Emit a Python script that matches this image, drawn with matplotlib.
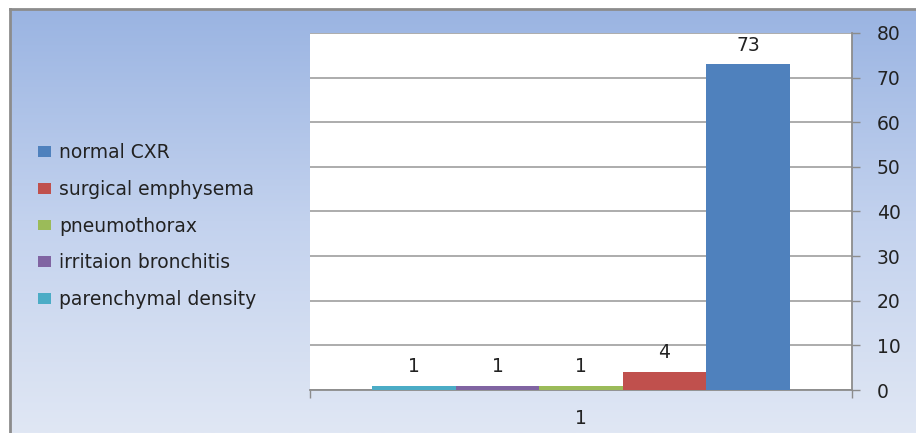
import numpy as np
import matplotlib
matplotlib.use("Agg")
import matplotlib.pyplot as plt
from matplotlib.colors import LinearSegmentedColormap

plt.rcParams['font.family'] = ['DejaVu Sans']

# Series, in the order they are drawn left to right
series = ["parenchymal density", "irritaion bronchitis", "pneumothorax",
          "surgical emphysema", "normal CXR"]
values = [1, 1, 1, 4, 73]
colors = ["#4BACC6", "#8064A2", "#9BBB59", "#C0504D", "#4F81BD"]
category_labels = ["1"]
y_ticks = [0, 10, 20, 30, 40, 50, 60, 70, 80]

FS = 13.5
W, H = 916, 433
fig = plt.figure(figsize=(W / 100, H / 100), dpi=100)
fig.patch.set_facecolor("white")

# Gradient chart area with a grey frame
bg = fig.add_axes([10 / W, 0, 1 - 10 / W, 1 - 9 / H], zorder=0)
cmap = LinearSegmentedColormap.from_list("bg", ["#9AB4E2", "#C3D2EE", "#E0E7F4"])
grad = np.linspace(0, 1, 256).reshape(-1, 1)
bg.imshow(grad, aspect="auto", cmap=cmap, extent=[0, 1, 0, 1], origin="upper")
bg.set_xlim(0, 1)
bg.set_ylim(0, 1)
bg.set_xticks([])
bg.set_yticks([])
for s in ["right", "bottom"]:
    bg.spines[s].set_visible(False)
for s in ["left", "top"]:
    bg.spines[s].set_color("#8C8C8C")
    bg.spines[s].set_linewidth(2)

# Plot area
ax = fig.add_axes([310 / W, 43 / H, 542 / W, 357 / H], zorder=1)
ax.set_facecolor("white")

n = len(series)
width = 0.154
offsets = (np.arange(n) - (n - 1) / 2) * width
handles = []
for i, (name, v, c) in enumerate(zip(series, values, colors)):
    b = ax.bar(offsets[i], v, width=width, color=c, label=name, zorder=3)
    handles.append(b)
    ax.annotate(str(v), (offsets[i], v), xytext=(0, 7), textcoords="offset points",
                ha="center", va="bottom", fontsize=FS, color="#222222")

ax.set_xlim(-0.5, 0.5)
ax.set_ylim(0, 80)
ax.yaxis.tick_right()
ax.set_yticks(y_ticks)
ax.set_yticklabels([str(t) for t in y_ticks])
ax.tick_params(axis="y", length=6, width=1, color="#8C8C8C", pad=12,
               labelsize=FS, labelcolor="#222222")
ax.set_xticks([0])
ax.set_xticklabels(category_labels)
ax.set_xticks([-0.5, 0.5], minor=True)
ax.tick_params(axis="x", which="major", length=0, pad=14, labelsize=FS,
               labelcolor="#222222")
ax.tick_params(axis="x", which="minor", length=6, width=1, color="#8C8C8C")
ax.grid(axis="y", color="#A6A6A6", linewidth=1.3, zorder=0)
ax.set_axisbelow(True)
for s in ["left", "top"]:
    ax.spines[s].set_visible(False)
for s in ["right", "bottom"]:
    ax.spines[s].set_color("#8C8C8C")
    ax.spines[s].set_linewidth(1.3)

# Legend lists the series from the tallest bar down
fig.legend(handles[::-1], series[::-1], loc="upper left",
           bbox_to_anchor=(38 / W, 1 - 143 / H), frameon=False,
           fontsize=FS, handlelength=0.7, handleheight=0.52,
           handletextpad=0.42, labelspacing=0.95, borderpad=0,
           borderaxespad=0, labelcolor="#222222")

fig.savefig("out.png", dpi=100)
